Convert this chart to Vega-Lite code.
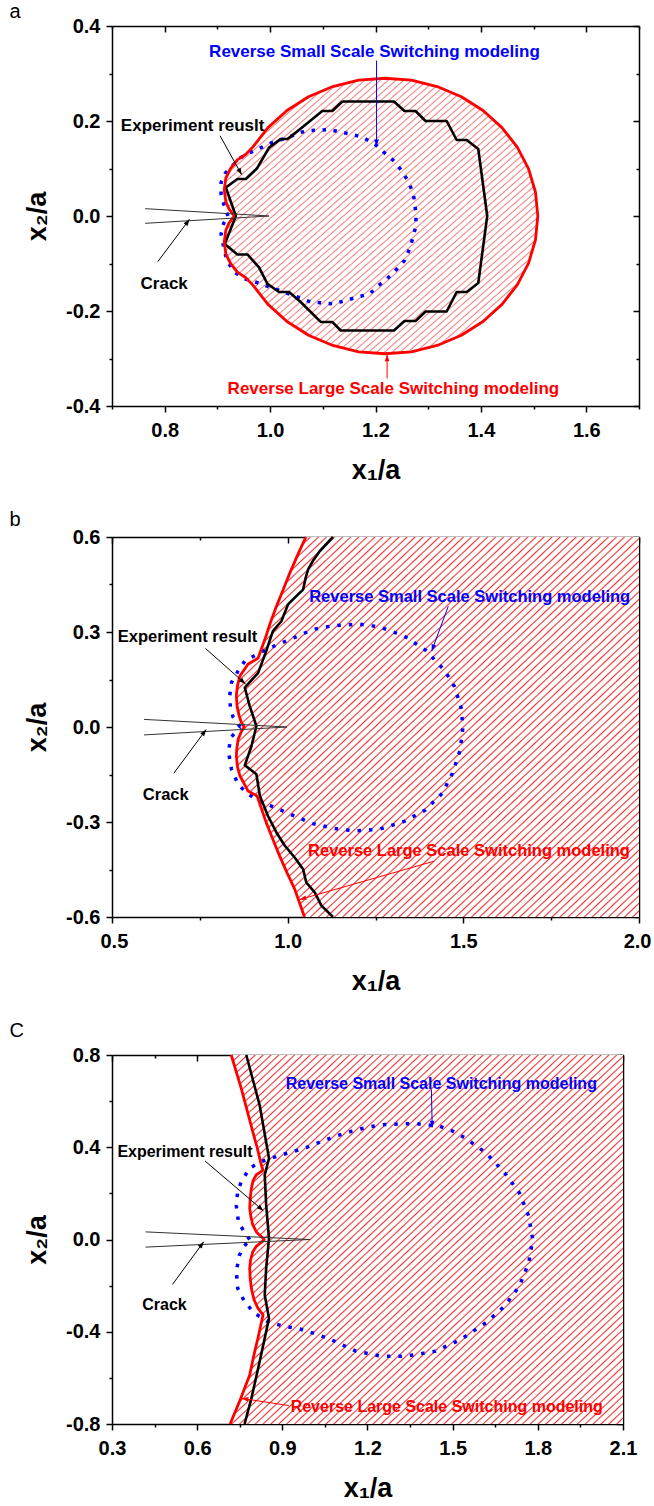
{
"$schema":"https://vega.github.io/schema/vega-lite/v6.json",
"padding":{"left":9,"top":2,"right":0,"bottom":5},
"spacing":27,
"datasets":{
"aFill":[{"y":0.29,"xl":1.218,"xr":1.218},{"y":0.289,"xl":1.194,"xr":1.242},{"y":0.28,"xl":1.1425,"xr":1.2935},{"y":0.26,"xl":1.0895,"xr":1.3465},{"y":0.24,"xl":1.055,"xr":1.381},{"y":0.22,"xl":1.029,"xr":1.407},{"y":0.2,"xl":1.008,"xr":1.428},{"y":0.18,"xl":0.991,"xr":1.445},{"y":0.16,"xl":0.976,"xr":1.46},{"y":0.145,"xl":0.967,"xr":1.469},{"y":0.13,"xl":0.954,"xr":1.477},{"y":0.118,"xl":0.938,"xr":1.483},{"y":0.1,"xl":0.925,"xr":1.49},{"y":0.08,"xl":0.916,"xr":1.497},{"y":0.055,"xl":0.913,"xr":1.503},{"y":0.03,"xl":0.916,"xr":1.506},{"y":0.015,"xl":0.922,"xr":1.508},{"y":0,"xl":0.932,"xr":1.508},{"y":-0.015,"xl":0.922,"xr":1.508},{"y":-0.03,"xl":0.916,"xr":1.506},{"y":-0.055,"xl":0.913,"xr":1.503},{"y":-0.08,"xl":0.916,"xr":1.497},{"y":-0.1,"xl":0.925,"xr":1.49},{"y":-0.118,"xl":0.938,"xr":1.483},{"y":-0.13,"xl":0.954,"xr":1.477},{"y":-0.145,"xl":0.967,"xr":1.469},{"y":-0.16,"xl":0.976,"xr":1.46},{"y":-0.18,"xl":0.991,"xr":1.445},{"y":-0.2,"xl":1.008,"xr":1.428},{"y":-0.22,"xl":1.029,"xr":1.407},{"y":-0.24,"xl":1.055,"xr":1.381},{"y":-0.26,"xl":1.0895,"xr":1.3465},{"y":-0.28,"xl":1.1425,"xr":1.2935},{"y":-0.289,"xl":1.194,"xr":1.242},{"y":-0.29,"xl":1.218,"xr":1.218}],
"aRed":[{"i":0,"x":0.932,"y":0},{"i":1,"x":0.922,"y":0.015},{"i":2,"x":0.916,"y":0.03},{"i":3,"x":0.913,"y":0.055},{"i":4,"x":0.916,"y":0.08},{"i":5,"x":0.925,"y":0.1},{"i":6,"x":0.938,"y":0.118},{"i":7,"x":0.954,"y":0.13},{"i":8,"x":0.967,"y":0.145},{"i":9,"x":0.996,"y":0.186},{"i":10,"x":1.032,"y":0.222},{"i":11,"x":1.073,"y":0.251},{"i":12,"x":1.119,"y":0.2725},{"i":13,"x":1.168,"y":0.286},{"i":14,"x":1.218,"y":0.29},{"i":15,"x":1.268,"y":0.286},{"i":16,"x":1.317,"y":0.2725},{"i":17,"x":1.363,"y":0.251},{"i":18,"x":1.404,"y":0.222},{"i":19,"x":1.44,"y":0.186},{"i":20,"x":1.469,"y":0.145},{"i":21,"x":1.4905,"y":0.099},{"i":22,"x":1.5036,"y":0.05},{"i":23,"x":1.508,"y":0},{"i":24,"x":1.5036,"y":-0.05},{"i":25,"x":1.4905,"y":-0.099},{"i":26,"x":1.469,"y":-0.145},{"i":27,"x":1.44,"y":-0.186},{"i":28,"x":1.404,"y":-0.222},{"i":29,"x":1.363,"y":-0.251},{"i":30,"x":1.317,"y":-0.2725},{"i":31,"x":1.268,"y":-0.286},{"i":32,"x":1.218,"y":-0.29},{"i":33,"x":1.168,"y":-0.286},{"i":34,"x":1.119,"y":-0.2725},{"i":35,"x":1.073,"y":-0.251},{"i":36,"x":1.032,"y":-0.222},{"i":37,"x":0.996,"y":-0.186},{"i":38,"x":0.967,"y":-0.145},{"i":39,"x":0.954,"y":-0.13},{"i":40,"x":0.938,"y":-0.118},{"i":41,"x":0.925,"y":-0.1},{"i":42,"x":0.916,"y":-0.08},{"i":43,"x":0.913,"y":-0.055},{"i":44,"x":0.916,"y":-0.03},{"i":45,"x":0.922,"y":-0.015},{"i":46,"x":0.932,"y":0}],
"aBlack":[{"i":0,"x":1.137,"y":0.241},{"i":1,"x":1.235,"y":0.241},{"i":2,"x":1.255,"y":0.221},{"i":3,"x":1.276,"y":0.221},{"i":4,"x":1.295,"y":0.2},{"i":5,"x":1.335,"y":0.2},{"i":6,"x":1.354,"y":0.16},{"i":7,"x":1.373,"y":0.16},{"i":8,"x":1.395,"y":0.141},{"i":9,"x":1.412,"y":0},{"i":10,"x":1.395,"y":-0.141},{"i":11,"x":1.373,"y":-0.16},{"i":12,"x":1.354,"y":-0.16},{"i":13,"x":1.335,"y":-0.201},{"i":14,"x":1.295,"y":-0.201},{"i":15,"x":1.276,"y":-0.221},{"i":16,"x":1.255,"y":-0.221},{"i":17,"x":1.235,"y":-0.241},{"i":18,"x":1.134,"y":-0.241},{"i":19,"x":1.118,"y":-0.223},{"i":20,"x":1.096,"y":-0.223},{"i":21,"x":1.058,"y":-0.181},{"i":22,"x":1.036,"y":-0.16},{"i":23,"x":1.017,"y":-0.16},{"i":24,"x":0.995,"y":-0.143},{"i":25,"x":0.979,"y":-0.108},{"i":26,"x":0.957,"y":-0.081},{"i":27,"x":0.938,"y":-0.081},{"i":28,"x":0.914,"y":-0.059},{"i":29,"x":0.935,"y":0},{"i":30,"x":0.916,"y":0.06},{"i":31,"x":0.938,"y":0.078},{"i":32,"x":0.954,"y":0.078},{"i":33,"x":0.975,"y":0.1},{"i":34,"x":0.998,"y":0.144},{"i":35,"x":1.02,"y":0.162},{"i":36,"x":1.033,"y":0.162},{"i":37,"x":1.06,"y":0.186},{"i":38,"x":1.099,"y":0.221},{"i":39,"x":1.118,"y":0.221},{"i":40,"x":1.137,"y":0.241}],
"aBlue":[{"i":0,"x":0.92,"y":0},{"i":1,"x":0.912,"y":0.025},{"i":2,"x":0.907,"y":0.046},{"i":3,"x":0.907,"y":0.071},{"i":4,"x":0.915,"y":0.09},{"i":5,"x":0.925,"y":0.102},{"i":6,"x":0.944,"y":0.123},{"i":7,"x":0.963,"y":0.134},{"i":8,"x":0.985,"y":0.145},{"i":9,"x":1.005,"y":0.155},{"i":10,"x":1.033,"y":0.165},{"i":11,"x":1.066,"y":0.179},{"i":12,"x":1.111,"y":0.182},{"i":13,"x":1.155,"y":0.172},{"i":14,"x":1.177,"y":0.165},{"i":15,"x":1.199,"y":0.151},{"i":16,"x":1.216,"y":0.134},{"i":17,"x":1.235,"y":0.116},{"i":18,"x":1.25,"y":0.095},{"i":19,"x":1.263,"y":0.071},{"i":20,"x":1.272,"y":0.046},{"i":21,"x":1.277,"y":0.004},{"i":22,"x":1.276,"y":-0.024},{"i":23,"x":1.266,"y":-0.066},{"i":24,"x":1.255,"y":-0.094},{"i":25,"x":1.241,"y":-0.111},{"i":26,"x":1.222,"y":-0.132},{"i":27,"x":1.206,"y":-0.146},{"i":28,"x":1.189,"y":-0.164},{"i":29,"x":1.165,"y":-0.171},{"i":30,"x":1.121,"y":-0.185},{"i":31,"x":1.077,"y":-0.181},{"i":32,"x":1.026,"y":-0.16},{"i":33,"x":1.0,"y":-0.15},{"i":34,"x":0.975,"y":-0.14},{"i":35,"x":0.951,"y":-0.132},{"i":36,"x":0.932,"y":-0.118},{"i":37,"x":0.918,"y":-0.094},{"i":38,"x":0.912,"y":-0.066},{"i":39,"x":0.907,"y":-0.038},{"i":40,"x":0.912,"y":-0.015},{"i":41,"x":0.92,"y":0}],
"aCrack":[{"i":0,"x":0.763,"y":0.0154},{"i":1,"x":0.998,"y":0},{"i":2,"x":0.763,"y":-0.0154}],
"aArrow":[{"id":1,"i":0,"x":0.905,"y":0.169,"c":"k","angle":152},{"id":1,"i":1,"x":0.946,"y":0.087,"c":"k","angle":152},{"id":2,"i":0,"x":0.787,"y":-0.096,"c":"k","angle":36},{"id":2,"i":1,"x":0.847,"y":-0.007,"c":"k","angle":36},{"id":3,"i":0,"x":1.202,"y":0.327,"c":"b","angle":180},{"id":3,"i":1,"x":1.202,"y":0.147,"c":"b","angle":180},{"id":4,"i":0,"x":1.222,"y":-0.342,"c":"r","angle":0},{"id":4,"i":1,"x":1.222,"y":-0.292,"c":"r","angle":0}],
"aText":[{"x":1.198,"y":0.345,"t":"Reverse Small Scale Switching modeling","c":"b"},{"x":1.234,"y":-0.365,"t":"Reverse Large Scale Switching modeling","c":"r"},{"x":0.853,"y":0.19,"t":"Experiment reuslt","c":"k"},{"x":0.799,"y":-0.143,"t":"Crack","c":"k"}],
"bFill":[{"y":0.6,"xl":1.052,"xr":2.0},{"y":0.55,"xl":1.031,"xr":2.0},{"y":0.486,"xl":1.006,"xr":2.0},{"y":0.43,"xl":0.986,"xr":2.0},{"y":0.381,"xl":0.968,"xr":2.0},{"y":0.33,"xl":0.951,"xr":2.0},{"y":0.276,"xl":0.935,"xr":2.0},{"y":0.218,"xl":0.916,"xr":2.0},{"y":0.198,"xl":0.887,"xr":2.0},{"y":0.161,"xl":0.864,"xr":2.0},{"y":0.13,"xl":0.857,"xr":2.0},{"y":0.098,"xl":0.854,"xr":2.0},{"y":0.065,"xl":0.856,"xr":2.0},{"y":0.035,"xl":0.862,"xr":2.0},{"y":0.015,"xl":0.868,"xr":2.0},{"y":0,"xl":0.876,"xr":2.0},{"y":-0.015,"xl":0.868,"xr":2.0},{"y":-0.039,"xl":0.859,"xr":2.0},{"y":-0.07,"xl":0.855,"xr":2.0},{"y":-0.091,"xl":0.854,"xr":2.0},{"y":-0.125,"xl":0.857,"xr":2.0},{"y":-0.154,"xl":0.864,"xr":2.0},{"y":-0.202,"xl":0.887,"xr":2.0},{"y":-0.218,"xl":0.913,"xr":2.0},{"y":-0.26,"xl":0.926,"xr":2.0},{"y":-0.302,"xl":0.939,"xr":2.0},{"y":-0.35,"xl":0.956,"xr":2.0},{"y":-0.407,"xl":0.977,"xr":2.0},{"y":-0.46,"xl":0.998,"xr":2.0},{"y":-0.512,"xl":1.02,"xr":2.0},{"y":-0.6,"xl":1.048,"xr":2.0}],
"bBlack":[{"x":1.129,"y":0.6},{"x":1.091,"y":0.555},{"x":1.072,"y":0.525},{"x":1.058,"y":0.497},{"x":1.051,"y":0.47},{"x":1.044,"y":0.434},{"x":1.029,"y":0.418},{"x":1.001,"y":0.387},{"x":0.982,"y":0.334},{"x":0.958,"y":0.303},{"x":0.939,"y":0.24},{"x":0.916,"y":0.171},{"x":0.878,"y":0.124},{"x":0.892,"y":0.066},{"x":0.911,"y":0.003},{"x":0.897,"y":-0.06},{"x":0.878,"y":-0.121},{"x":0.911,"y":-0.149},{"x":0.921,"y":-0.218},{"x":0.944,"y":-0.281},{"x":0.968,"y":-0.333},{"x":0.992,"y":-0.375},{"x":1.02,"y":-0.412},{"x":1.044,"y":-0.449},{"x":1.053,"y":-0.491},{"x":1.077,"y":-0.522},{"x":1.096,"y":-0.564},{"x":1.129,"y":-0.6}],
"bBlue":[{"i":0,"x":0.865,"y":0},{"i":1,"x":0.845,"y":0.03},{"i":2,"x":0.837,"y":0.06},{"i":3,"x":0.835,"y":0.098},{"i":4,"x":0.84,"y":0.14},{"i":5,"x":0.859,"y":0.177},{"i":6,"x":0.878,"y":0.208},{"i":7,"x":0.911,"y":0.229},{"i":8,"x":0.939,"y":0.245},{"i":9,"x":0.973,"y":0.261},{"i":10,"x":1.006,"y":0.276},{"i":11,"x":1.039,"y":0.292},{"i":12,"x":1.072,"y":0.308},{"i":13,"x":1.13,"y":0.32},{"i":14,"x":1.201,"y":0.325},{"i":15,"x":1.261,"y":0.316},{"i":16,"x":1.332,"y":0.287},{"i":17,"x":1.392,"y":0.243},{"i":18,"x":1.446,"y":0.18},{"i":19,"x":1.475,"y":0.127},{"i":20,"x":1.493,"y":0.064},{"i":21,"x":1.499,"y":0},{"i":22,"x":1.491,"y":-0.073},{"i":23,"x":1.469,"y":-0.146},{"i":24,"x":1.44,"y":-0.209},{"i":25,"x":1.392,"y":-0.262},{"i":26,"x":1.332,"y":-0.298},{"i":27,"x":1.261,"y":-0.323},{"i":28,"x":1.189,"y":-0.328},{"i":29,"x":1.13,"y":-0.32},{"i":30,"x":1.072,"y":-0.305},{"i":31,"x":1.03,"y":-0.286},{"i":32,"x":0.996,"y":-0.27},{"i":33,"x":0.963,"y":-0.254},{"i":34,"x":0.93,"y":-0.239},{"i":35,"x":0.887,"y":-0.212},{"i":36,"x":0.859,"y":-0.181},{"i":37,"x":0.84,"y":-0.133},{"i":38,"x":0.832,"y":-0.081},{"i":39,"x":0.837,"y":-0.035},{"i":40,"x":0.865,"y":0}],
"bCrack":[{"i":0,"x":0.591,"y":0.024},{"i":1,"x":0.998,"y":0},{"i":2,"x":0.591,"y":-0.025}],
"bArrow":[{"id":1,"i":0,"x":0.766,"y":0.248,"c":"k","angle":131.5},{"id":1,"i":1,"x":0.88,"y":0.136,"c":"k","angle":131.5},{"id":2,"i":0,"x":0.676,"y":-0.146,"c":"k","angle":36.5},{"id":2,"i":1,"x":0.768,"y":-0.008,"c":"k","angle":36.5},{"id":3,"i":0,"x":1.457,"y":0.381,"c":"b","angle":200},{"id":3,"i":1,"x":1.41,"y":0.24,"c":"b","angle":200},{"id":4,"i":0,"x":1.416,"y":-0.424,"c":"r","angle":254},{"id":4,"i":1,"x":1.034,"y":-0.545,"c":"r","angle":254}],
"bText":[{"x":1.518,"y":0.411,"t":"Reverse Small Scale Switching modeling","c":"b"},{"x":1.516,"y":-0.393,"t":"Reverse Large Scale Switching modeling","c":"r"},{"x":0.715,"y":0.285,"t":"Experiment result","c":"k"},{"x":0.653,"y":-0.214,"t":"Crack","c":"k"}],
"cFill":[{"y":0.8,"xl":0.72,"xr":2.1},{"y":0.656,"xl":0.755,"xr":2.1},{"y":0.55,"xl":0.778,"xr":2.1},{"y":0.467,"xl":0.796,"xr":2.1},{"y":0.4,"xl":0.811,"xr":2.1},{"y":0.323,"xl":0.826,"xr":2.1},{"y":0.301,"xl":0.832,"xr":2.1},{"y":0.28,"xl":0.808,"xr":2.1},{"y":0.255,"xl":0.797,"xr":2.1},{"y":0.222,"xl":0.791,"xr":2.1},{"y":0.18,"xl":0.787,"xr":2.1},{"y":0.135,"xl":0.785,"xr":2.1},{"y":0.1,"xl":0.789,"xr":2.1},{"y":0.063,"xl":0.796,"xr":2.1},{"y":0.03,"xl":0.81,"xr":2.1},{"y":0.008,"xl":0.83,"xr":2.1},{"y":0,"xl":0.836,"xr":2.1},{"y":-0.008,"xl":0.83,"xr":2.1},{"y":-0.03,"xl":0.808,"xr":2.1},{"y":-0.053,"xl":0.796,"xr":2.1},{"y":-0.09,"xl":0.788,"xr":2.1},{"y":-0.125,"xl":0.785,"xr":2.1},{"y":-0.17,"xl":0.787,"xr":2.1},{"y":-0.212,"xl":0.791,"xr":2.1},{"y":-0.26,"xl":0.8,"xr":2.1},{"y":-0.298,"xl":0.814,"xr":2.1},{"y":-0.327,"xl":0.832,"xr":2.1},{"y":-0.428,"xl":0.814,"xr":2.1},{"y":-0.5,"xl":0.8,"xr":2.1},{"y":-0.588,"xl":0.785,"xr":2.1},{"y":-0.703,"xl":0.749,"xr":2.1},{"y":-0.8,"xl":0.716,"xr":2.1}],
"cBlack":[{"x":0.773,"y":0.8},{"x":0.82,"y":0.583},{"x":0.853,"y":0.352},{"x":0.838,"y":0.28},{"x":0.843,"y":0.15},{"x":0.853,"y":0.005},{"x":0.843,"y":-0.125},{"x":0.838,"y":-0.241},{"x":0.853,"y":-0.342},{"x":0.82,"y":-0.53},{"x":0.791,"y":-0.689},{"x":0.767,"y":-0.8}],
"cBlue":[{"i":0,"x":0.785,"y":0},{"i":1,"x":0.768,"y":0.03},{"i":2,"x":0.746,"y":0.072},{"i":3,"x":0.738,"y":0.145},{"i":4,"x":0.742,"y":0.2},{"i":5,"x":0.755,"y":0.251},{"i":6,"x":0.785,"y":0.309},{"i":7,"x":0.82,"y":0.335},{"i":8,"x":0.855,"y":0.35},{"i":9,"x":0.884,"y":0.362},{"i":10,"x":0.937,"y":0.381},{"i":11,"x":0.984,"y":0.398},{"i":12,"x":1.026,"y":0.419},{"i":13,"x":1.085,"y":0.447},{"i":14,"x":1.145,"y":0.47},{"i":15,"x":1.205,"y":0.488},{"i":16,"x":1.263,"y":0.499},{"i":17,"x":1.366,"y":0.503},{"i":18,"x":1.455,"y":0.491},{"i":19,"x":1.5,"y":0.47},{"i":20,"x":1.543,"y":0.441},{"i":21,"x":1.617,"y":0.376},{"i":22,"x":1.683,"y":0.289},{"i":23,"x":1.735,"y":0.202},{"i":24,"x":1.768,"y":0.101},{"i":25,"x":1.782,"y":0},{"i":26,"x":1.768,"y":-0.101},{"i":27,"x":1.735,"y":-0.202},{"i":28,"x":1.683,"y":-0.289},{"i":29,"x":1.617,"y":-0.361},{"i":30,"x":1.528,"y":-0.434},{"i":31,"x":1.44,"y":-0.484},{"i":32,"x":1.336,"y":-0.506},{"i":33,"x":1.248,"y":-0.506},{"i":34,"x":1.159,"y":-0.484},{"i":35,"x":1.071,"y":-0.434},{"i":36,"x":1.02,"y":-0.41},{"i":37,"x":0.961,"y":-0.388},{"i":38,"x":0.902,"y":-0.375},{"i":39,"x":0.849,"y":-0.356},{"i":40,"x":0.802,"y":-0.32},{"i":41,"x":0.767,"y":-0.27},{"i":42,"x":0.743,"y":-0.212},{"i":43,"x":0.738,"y":-0.139},{"i":44,"x":0.748,"y":-0.07},{"i":45,"x":0.765,"y":-0.03},{"i":46,"x":0.785,"y":0}],
"cCrack":[{"i":0,"x":0.418,"y":0.033},{"i":1,"x":0.997,"y":0},{"i":2,"x":0.418,"y":-0.033}],
"cArrow":[{"id":1,"i":0,"x":0.628,"y":0.34,"c":"k","angle":130.4},{"id":1,"i":1,"x":0.833,"y":0.125,"c":"k","angle":130.4},{"id":2,"i":0,"x":0.513,"y":-0.195,"c":"k","angle":36.2},{"id":2,"i":1,"x":0.623,"y":-0.01,"c":"k","angle":36.2},{"id":3,"i":0,"x":1.425,"y":0.65,"c":"b","angle":179},{"id":3,"i":1,"x":1.428,"y":0.486,"c":"b","angle":179},{"id":4,"i":0,"x":0.923,"y":-0.72,"c":"r","angle":278.6},{"id":4,"i":1,"x":0.757,"y":-0.689,"c":"r","angle":278.6}],
"cText":[{"x":1.46,"y":0.674,"t":"Reverse Small Scale Switching modeling","c":"b"},{"x":1.479,"y":-0.725,"t":"Reverse Large Scale Switching modeling","c":"r"},{"x":0.557,"y":0.378,"t":"Experiment result","c":"k"},{"x":0.485,"y":-0.284,"t":"Crack","c":"k"}]
},
"vconcat":[
{
"width":527,"height":380,
"title":{"text":"a","anchor":"start","frame":"bounds","fontSize":20,"fontWeight":"normal","font":"Liberation Sans","color":"#000","dx":-14,"offset":-6},
"resolve":{"axis":{"x":"independent","y":"independent"}},
"layer":[
{"data":{"name":"aFill"},
"mark":{"type":"area","orient":"horizontal","fill":{"gradient":"linear","x1":0,"y1":0,"x2":1,"y2":1,"stops":[
{"offset":0,"color":"#fff"},{"offset":0.0025,"color":"#f28080"},{"offset":0.005,"color":"#fff"},
{"offset":0.0125,"color":"#fff"},{"offset":0.015,"color":"#f28080"},{"offset":0.0175,"color":"#fff"},
{"offset":0.025,"color":"#fff"},{"offset":0.0275,"color":"#f28080"},{"offset":0.03,"color":"#fff"},
{"offset":0.0375,"color":"#fff"},{"offset":0.04,"color":"#f28080"},{"offset":0.0425,"color":"#fff"},
{"offset":0.05,"color":"#fff"},{"offset":0.0525,"color":"#f28080"},{"offset":0.055,"color":"#fff"},
{"offset":0.0625,"color":"#fff"},{"offset":0.065,"color":"#f28080"},{"offset":0.0675,"color":"#fff"},
{"offset":0.075,"color":"#fff"},{"offset":0.0775,"color":"#f28080"},{"offset":0.08,"color":"#fff"},
{"offset":0.0875,"color":"#fff"},{"offset":0.09,"color":"#f28080"},{"offset":0.0925,"color":"#fff"},
{"offset":0.1,"color":"#fff"},{"offset":0.1025,"color":"#f28080"},{"offset":0.105,"color":"#fff"},
{"offset":0.1125,"color":"#fff"},{"offset":0.115,"color":"#f28080"},{"offset":0.1175,"color":"#fff"},
{"offset":0.125,"color":"#fff"},{"offset":0.1275,"color":"#f28080"},{"offset":0.13,"color":"#fff"},
{"offset":0.1375,"color":"#fff"},{"offset":0.14,"color":"#f28080"},{"offset":0.1425,"color":"#fff"},
{"offset":0.15,"color":"#fff"},{"offset":0.1525,"color":"#f28080"},{"offset":0.155,"color":"#fff"},
{"offset":0.1625,"color":"#fff"},{"offset":0.165,"color":"#f28080"},{"offset":0.1675,"color":"#fff"},
{"offset":0.175,"color":"#fff"},{"offset":0.1775,"color":"#f28080"},{"offset":0.18,"color":"#fff"},
{"offset":0.1875,"color":"#fff"},{"offset":0.19,"color":"#f28080"},{"offset":0.1925,"color":"#fff"},
{"offset":0.2,"color":"#fff"},{"offset":0.2025,"color":"#f28080"},{"offset":0.205,"color":"#fff"},
{"offset":0.2125,"color":"#fff"},{"offset":0.215,"color":"#f28080"},{"offset":0.2175,"color":"#fff"},
{"offset":0.225,"color":"#fff"},{"offset":0.2275,"color":"#f28080"},{"offset":0.23,"color":"#fff"},
{"offset":0.2375,"color":"#fff"},{"offset":0.24,"color":"#f28080"},{"offset":0.2425,"color":"#fff"},
{"offset":0.25,"color":"#fff"},{"offset":0.2525,"color":"#f28080"},{"offset":0.255,"color":"#fff"},
{"offset":0.2625,"color":"#fff"},{"offset":0.265,"color":"#f28080"},{"offset":0.2675,"color":"#fff"},
{"offset":0.275,"color":"#fff"},{"offset":0.2775,"color":"#f28080"},{"offset":0.28,"color":"#fff"},
{"offset":0.2875,"color":"#fff"},{"offset":0.29,"color":"#f28080"},{"offset":0.2925,"color":"#fff"},
{"offset":0.3,"color":"#fff"},{"offset":0.3025,"color":"#f28080"},{"offset":0.305,"color":"#fff"},
{"offset":0.3125,"color":"#fff"},{"offset":0.315,"color":"#f28080"},{"offset":0.3175,"color":"#fff"},
{"offset":0.325,"color":"#fff"},{"offset":0.3275,"color":"#f28080"},{"offset":0.33,"color":"#fff"},
{"offset":0.3375,"color":"#fff"},{"offset":0.34,"color":"#f28080"},{"offset":0.3425,"color":"#fff"},
{"offset":0.35,"color":"#fff"},{"offset":0.3525,"color":"#f28080"},{"offset":0.355,"color":"#fff"},
{"offset":0.3625,"color":"#fff"},{"offset":0.365,"color":"#f28080"},{"offset":0.3675,"color":"#fff"},
{"offset":0.375,"color":"#fff"},{"offset":0.3775,"color":"#f28080"},{"offset":0.38,"color":"#fff"},
{"offset":0.3875,"color":"#fff"},{"offset":0.39,"color":"#f28080"},{"offset":0.3925,"color":"#fff"},
{"offset":0.4,"color":"#fff"},{"offset":0.4025,"color":"#f28080"},{"offset":0.405,"color":"#fff"},
{"offset":0.4125,"color":"#fff"},{"offset":0.415,"color":"#f28080"},{"offset":0.4175,"color":"#fff"},
{"offset":0.425,"color":"#fff"},{"offset":0.4275,"color":"#f28080"},{"offset":0.43,"color":"#fff"},
{"offset":0.4375,"color":"#fff"},{"offset":0.44,"color":"#f28080"},{"offset":0.4425,"color":"#fff"},
{"offset":0.45,"color":"#fff"},{"offset":0.4525,"color":"#f28080"},{"offset":0.455,"color":"#fff"},
{"offset":0.4625,"color":"#fff"},{"offset":0.465,"color":"#f28080"},{"offset":0.4675,"color":"#fff"},
{"offset":0.475,"color":"#fff"},{"offset":0.4775,"color":"#f28080"},{"offset":0.48,"color":"#fff"},
{"offset":0.4875,"color":"#fff"},{"offset":0.49,"color":"#f28080"},{"offset":0.4925,"color":"#fff"},
{"offset":0.5,"color":"#fff"},{"offset":0.5025,"color":"#f28080"},{"offset":0.505,"color":"#fff"},
{"offset":0.5125,"color":"#fff"},{"offset":0.515,"color":"#f28080"},{"offset":0.5175,"color":"#fff"},
{"offset":0.525,"color":"#fff"},{"offset":0.5275,"color":"#f28080"},{"offset":0.53,"color":"#fff"},
{"offset":0.5375,"color":"#fff"},{"offset":0.54,"color":"#f28080"},{"offset":0.5425,"color":"#fff"},
{"offset":0.55,"color":"#fff"},{"offset":0.5525,"color":"#f28080"},{"offset":0.555,"color":"#fff"},
{"offset":0.5625,"color":"#fff"},{"offset":0.565,"color":"#f28080"},{"offset":0.5675,"color":"#fff"},
{"offset":0.575,"color":"#fff"},{"offset":0.5775,"color":"#f28080"},{"offset":0.58,"color":"#fff"},
{"offset":0.5875,"color":"#fff"},{"offset":0.59,"color":"#f28080"},{"offset":0.5925,"color":"#fff"},
{"offset":0.6,"color":"#fff"},{"offset":0.6025,"color":"#f28080"},{"offset":0.605,"color":"#fff"},
{"offset":0.6125,"color":"#fff"},{"offset":0.615,"color":"#f28080"},{"offset":0.6175,"color":"#fff"},
{"offset":0.625,"color":"#fff"},{"offset":0.6275,"color":"#f28080"},{"offset":0.63,"color":"#fff"},
{"offset":0.6375,"color":"#fff"},{"offset":0.64,"color":"#f28080"},{"offset":0.6425,"color":"#fff"},
{"offset":0.65,"color":"#fff"},{"offset":0.6525,"color":"#f28080"},{"offset":0.655,"color":"#fff"},
{"offset":0.6625,"color":"#fff"},{"offset":0.665,"color":"#f28080"},{"offset":0.6675,"color":"#fff"},
{"offset":0.675,"color":"#fff"},{"offset":0.6775,"color":"#f28080"},{"offset":0.68,"color":"#fff"},
{"offset":0.6875,"color":"#fff"},{"offset":0.69,"color":"#f28080"},{"offset":0.6925,"color":"#fff"},
{"offset":0.7,"color":"#fff"},{"offset":0.7025,"color":"#f28080"},{"offset":0.705,"color":"#fff"},
{"offset":0.7125,"color":"#fff"},{"offset":0.715,"color":"#f28080"},{"offset":0.7175,"color":"#fff"},
{"offset":0.725,"color":"#fff"},{"offset":0.7275,"color":"#f28080"},{"offset":0.73,"color":"#fff"},
{"offset":0.7375,"color":"#fff"},{"offset":0.74,"color":"#f28080"},{"offset":0.7425,"color":"#fff"},
{"offset":0.75,"color":"#fff"},{"offset":0.7525,"color":"#f28080"},{"offset":0.755,"color":"#fff"},
{"offset":0.7625,"color":"#fff"},{"offset":0.765,"color":"#f28080"},{"offset":0.7675,"color":"#fff"},
{"offset":0.775,"color":"#fff"},{"offset":0.7775,"color":"#f28080"},{"offset":0.78,"color":"#fff"},
{"offset":0.7875,"color":"#fff"},{"offset":0.79,"color":"#f28080"},{"offset":0.7925,"color":"#fff"},
{"offset":0.8,"color":"#fff"},{"offset":0.8025,"color":"#f28080"},{"offset":0.805,"color":"#fff"},
{"offset":0.8125,"color":"#fff"},{"offset":0.815,"color":"#f28080"},{"offset":0.8175,"color":"#fff"},
{"offset":0.825,"color":"#fff"},{"offset":0.8275,"color":"#f28080"},{"offset":0.83,"color":"#fff"},
{"offset":0.8375,"color":"#fff"},{"offset":0.84,"color":"#f28080"},{"offset":0.8425,"color":"#fff"},
{"offset":0.85,"color":"#fff"},{"offset":0.8525,"color":"#f28080"},{"offset":0.855,"color":"#fff"},
{"offset":0.8625,"color":"#fff"},{"offset":0.865,"color":"#f28080"},{"offset":0.8675,"color":"#fff"},
{"offset":0.875,"color":"#fff"},{"offset":0.8775,"color":"#f28080"},{"offset":0.88,"color":"#fff"},
{"offset":0.8875,"color":"#fff"},{"offset":0.89,"color":"#f28080"},{"offset":0.8925,"color":"#fff"},
{"offset":0.9,"color":"#fff"},{"offset":0.9025,"color":"#f28080"},{"offset":0.905,"color":"#fff"},
{"offset":0.9125,"color":"#fff"},{"offset":0.915,"color":"#f28080"},{"offset":0.9175,"color":"#fff"},
{"offset":0.925,"color":"#fff"},{"offset":0.9275,"color":"#f28080"},{"offset":0.93,"color":"#fff"},
{"offset":0.9375,"color":"#fff"},{"offset":0.94,"color":"#f28080"},{"offset":0.9425,"color":"#fff"},
{"offset":0.95,"color":"#fff"},{"offset":0.9525,"color":"#f28080"},{"offset":0.955,"color":"#fff"},
{"offset":0.9625,"color":"#fff"},{"offset":0.965,"color":"#f28080"},{"offset":0.9675,"color":"#fff"},
{"offset":0.975,"color":"#fff"},{"offset":0.9775,"color":"#f28080"},{"offset":0.98,"color":"#fff"},
{"offset":0.9875,"color":"#fff"},{"offset":0.99,"color":"#f28080"},{"offset":0.9925,"color":"#fff"}
]}},
"encoding":{
"y":{"field":"y","type":"quantitative","scale":{"domain":[-0.4,0.4],"nice":false,"zero":false},
"axis":{"orient":"left","values":[-0.4,-0.3,-0.2,-0.1,0,0.1,0.2,0.3,0.4],"labelExpr":"round(datum.value*10)%2==0 ? replace(format(datum.value,'.1f'),'−','-') : ''","tickSize":{"condition":{"test":"round(datum.value*10)%2==0","value":6},"value":3},"title":"x₂/a","titlePadding":14,"labelPadding":6}},
"x":{"field":"xl","type":"quantitative","scale":{"domain":[0.7,1.7],"nice":false,"zero":false},
"axis":{"orient":"bottom","values":[0.7,0.8,0.9,1,1.1,1.2,1.3,1.4,1.5,1.6,1.7],"labelExpr":"round(datum.value*10)%2==0 ? replace(format(datum.value,'.1f'),'−','-') : ''","tickSize":{"condition":{"test":"round(datum.value*10)%2==0","value":6},"value":3},"title":"x₁/a","titlePadding":17,"labelPadding":8}},
"x2":{"field":"xr"}}},
{"data":{"name":"aBlue"},
"mark":{"type":"line","color":"#0000ff","strokeWidth":3.5,"strokeDash":[3.5,7.5]},
"encoding":{"x":{"field":"x","type":"quantitative","axis":{"orient":"top","values":[0.7,0.8,0.9,1,1.1,1.2,1.3,1.4,1.5,1.6,1.7],"labels":false,"title":null,"tickSize":{"condition":{"test":"round(datum.value*10)%2==0","value":-6},"value":-3}}},
"y":{"field":"y","type":"quantitative","axis":{"orient":"right","values":[-0.4,-0.3,-0.2,-0.1,0,0.1,0.2,0.3,0.4],"labels":false,"title":null,"tickSize":{"condition":{"test":"round(datum.value*10)%2==0","value":-6},"value":-3}}},
"order":{"field":"i","type":"quantitative"}}},
{"data":{"name":"aBlack"},
"mark":{"type":"line","color":"#000000","strokeWidth":2.6,"strokeJoin":"round"},
"encoding":{"x":{"field":"x","type":"quantitative","axis":null},"y":{"field":"y","type":"quantitative","axis":null},"order":{"field":"i","type":"quantitative"}}},
{"data":{"name":"aRed"},
"mark":{"type":"line","color":"#ff0000","strokeWidth":2.8,"strokeJoin":"round"},
"encoding":{"x":{"field":"x","type":"quantitative","axis":null},"y":{"field":"y","type":"quantitative","axis":null},"order":{"field":"i","type":"quantitative"}}},
{"data":{"name":"aCrack"},
"mark":{"type":"line","color":"#333333","strokeWidth":1},
"encoding":{"x":{"field":"x","type":"quantitative","axis":null},"y":{"field":"y","type":"quantitative","axis":null},"order":{"field":"i","type":"quantitative"}}},
{"data":{"name":"aArrow"},
"mark":{"type":"line","strokeWidth":1},
"encoding":{"x":{"field":"x","type":"quantitative","axis":null},"y":{"field":"y","type":"quantitative","axis":null},"detail":{"field":"id"},"order":{"field":"i","type":"quantitative"},
"color":{"field":"c","type":"nominal","scale":{"domain":["k","b","r"],"range":["#000000","#0000ff","#ff0000"]},"legend":null}}},
{"data":{"name":"aArrow"},"transform":[{"filter":"datum.i==1"}],
"mark":{"type":"point","shape":"M0,0L0.8,2.2L-0.8,2.2Z","filled":true,"size":36,"opacity":1,"strokeWidth":0},
"encoding":{"x":{"field":"x","type":"quantitative","axis":null},"y":{"field":"y","type":"quantitative","axis":null},"angle":{"field":"angle","type":"quantitative","scale":null},
"color":{"field":"c","type":"nominal","scale":{"domain":["k","b","r"],"range":["#000000","#0000ff","#ff0000"]},"legend":null}}},
{"data":{"name":"aText"},
"mark":{"type":"text","font":"Liberation Sans","fontWeight":"bold","fontSize":17,"align":"center","baseline":"middle"},
"encoding":{"x":{"field":"x","type":"quantitative","axis":null},"y":{"field":"y","type":"quantitative","axis":null},"text":{"field":"t"},
"color":{"field":"c","type":"nominal","scale":{"domain":["k","b","r"],"range":["#000000","#0000ff","#ff0000"]},"legend":null}}}
]
},
{
"width":527,"height":380,
"title":{"text":"b","anchor":"start","frame":"bounds","fontSize":20,"fontWeight":"normal","font":"Liberation Sans","color":"#000","dx":-14,"offset":-3},
"resolve":{"axis":{"x":"independent","y":"independent"}},
"layer":[
{"data":{"name":"bFill"},
"mark":{"type":"area","orient":"horizontal","fill":{"gradient":"linear","x1":0,"y1":0,"x2":1,"y2":1,"stops":[
{"offset":0,"color":"#fff"},{"offset":0.002,"color":"#ee3434"},{"offset":0.004,"color":"#fff"},
{"offset":0.01,"color":"#fff"},{"offset":0.012,"color":"#ee3434"},{"offset":0.014,"color":"#fff"},
{"offset":0.02,"color":"#fff"},{"offset":0.022,"color":"#ee3434"},{"offset":0.024,"color":"#fff"},
{"offset":0.03,"color":"#fff"},{"offset":0.032,"color":"#ee3434"},{"offset":0.034,"color":"#fff"},
{"offset":0.04,"color":"#fff"},{"offset":0.042,"color":"#ee3434"},{"offset":0.044,"color":"#fff"},
{"offset":0.05,"color":"#fff"},{"offset":0.052,"color":"#ee3434"},{"offset":0.054,"color":"#fff"},
{"offset":0.06,"color":"#fff"},{"offset":0.062,"color":"#ee3434"},{"offset":0.064,"color":"#fff"},
{"offset":0.07,"color":"#fff"},{"offset":0.072,"color":"#ee3434"},{"offset":0.074,"color":"#fff"},
{"offset":0.08,"color":"#fff"},{"offset":0.082,"color":"#ee3434"},{"offset":0.084,"color":"#fff"},
{"offset":0.09,"color":"#fff"},{"offset":0.092,"color":"#ee3434"},{"offset":0.094,"color":"#fff"},
{"offset":0.1,"color":"#fff"},{"offset":0.102,"color":"#ee3434"},{"offset":0.104,"color":"#fff"},
{"offset":0.11,"color":"#fff"},{"offset":0.112,"color":"#ee3434"},{"offset":0.114,"color":"#fff"},
{"offset":0.12,"color":"#fff"},{"offset":0.122,"color":"#ee3434"},{"offset":0.124,"color":"#fff"},
{"offset":0.13,"color":"#fff"},{"offset":0.132,"color":"#ee3434"},{"offset":0.134,"color":"#fff"},
{"offset":0.14,"color":"#fff"},{"offset":0.142,"color":"#ee3434"},{"offset":0.144,"color":"#fff"},
{"offset":0.15,"color":"#fff"},{"offset":0.152,"color":"#ee3434"},{"offset":0.154,"color":"#fff"},
{"offset":0.16,"color":"#fff"},{"offset":0.162,"color":"#ee3434"},{"offset":0.164,"color":"#fff"},
{"offset":0.17,"color":"#fff"},{"offset":0.172,"color":"#ee3434"},{"offset":0.174,"color":"#fff"},
{"offset":0.18,"color":"#fff"},{"offset":0.182,"color":"#ee3434"},{"offset":0.184,"color":"#fff"},
{"offset":0.19,"color":"#fff"},{"offset":0.192,"color":"#ee3434"},{"offset":0.194,"color":"#fff"},
{"offset":0.2,"color":"#fff"},{"offset":0.202,"color":"#ee3434"},{"offset":0.204,"color":"#fff"},
{"offset":0.21,"color":"#fff"},{"offset":0.212,"color":"#ee3434"},{"offset":0.214,"color":"#fff"},
{"offset":0.22,"color":"#fff"},{"offset":0.222,"color":"#ee3434"},{"offset":0.224,"color":"#fff"},
{"offset":0.23,"color":"#fff"},{"offset":0.232,"color":"#ee3434"},{"offset":0.234,"color":"#fff"},
{"offset":0.24,"color":"#fff"},{"offset":0.242,"color":"#ee3434"},{"offset":0.244,"color":"#fff"},
{"offset":0.25,"color":"#fff"},{"offset":0.252,"color":"#ee3434"},{"offset":0.254,"color":"#fff"},
{"offset":0.26,"color":"#fff"},{"offset":0.262,"color":"#ee3434"},{"offset":0.264,"color":"#fff"},
{"offset":0.27,"color":"#fff"},{"offset":0.272,"color":"#ee3434"},{"offset":0.274,"color":"#fff"},
{"offset":0.28,"color":"#fff"},{"offset":0.282,"color":"#ee3434"},{"offset":0.284,"color":"#fff"},
{"offset":0.29,"color":"#fff"},{"offset":0.292,"color":"#ee3434"},{"offset":0.294,"color":"#fff"},
{"offset":0.3,"color":"#fff"},{"offset":0.302,"color":"#ee3434"},{"offset":0.304,"color":"#fff"},
{"offset":0.31,"color":"#fff"},{"offset":0.312,"color":"#ee3434"},{"offset":0.314,"color":"#fff"},
{"offset":0.32,"color":"#fff"},{"offset":0.322,"color":"#ee3434"},{"offset":0.324,"color":"#fff"},
{"offset":0.33,"color":"#fff"},{"offset":0.332,"color":"#ee3434"},{"offset":0.334,"color":"#fff"},
{"offset":0.34,"color":"#fff"},{"offset":0.342,"color":"#ee3434"},{"offset":0.344,"color":"#fff"},
{"offset":0.35,"color":"#fff"},{"offset":0.352,"color":"#ee3434"},{"offset":0.354,"color":"#fff"},
{"offset":0.36,"color":"#fff"},{"offset":0.362,"color":"#ee3434"},{"offset":0.364,"color":"#fff"},
{"offset":0.37,"color":"#fff"},{"offset":0.372,"color":"#ee3434"},{"offset":0.374,"color":"#fff"},
{"offset":0.38,"color":"#fff"},{"offset":0.382,"color":"#ee3434"},{"offset":0.384,"color":"#fff"},
{"offset":0.39,"color":"#fff"},{"offset":0.392,"color":"#ee3434"},{"offset":0.394,"color":"#fff"},
{"offset":0.4,"color":"#fff"},{"offset":0.402,"color":"#ee3434"},{"offset":0.404,"color":"#fff"},
{"offset":0.41,"color":"#fff"},{"offset":0.412,"color":"#ee3434"},{"offset":0.414,"color":"#fff"},
{"offset":0.42,"color":"#fff"},{"offset":0.422,"color":"#ee3434"},{"offset":0.424,"color":"#fff"},
{"offset":0.43,"color":"#fff"},{"offset":0.432,"color":"#ee3434"},{"offset":0.434,"color":"#fff"},
{"offset":0.44,"color":"#fff"},{"offset":0.442,"color":"#ee3434"},{"offset":0.444,"color":"#fff"},
{"offset":0.45,"color":"#fff"},{"offset":0.452,"color":"#ee3434"},{"offset":0.454,"color":"#fff"},
{"offset":0.46,"color":"#fff"},{"offset":0.462,"color":"#ee3434"},{"offset":0.464,"color":"#fff"},
{"offset":0.47,"color":"#fff"},{"offset":0.472,"color":"#ee3434"},{"offset":0.474,"color":"#fff"},
{"offset":0.48,"color":"#fff"},{"offset":0.482,"color":"#ee3434"},{"offset":0.484,"color":"#fff"},
{"offset":0.49,"color":"#fff"},{"offset":0.492,"color":"#ee3434"},{"offset":0.494,"color":"#fff"},
{"offset":0.5,"color":"#fff"},{"offset":0.502,"color":"#ee3434"},{"offset":0.504,"color":"#fff"},
{"offset":0.51,"color":"#fff"},{"offset":0.512,"color":"#ee3434"},{"offset":0.514,"color":"#fff"},
{"offset":0.52,"color":"#fff"},{"offset":0.522,"color":"#ee3434"},{"offset":0.524,"color":"#fff"},
{"offset":0.53,"color":"#fff"},{"offset":0.532,"color":"#ee3434"},{"offset":0.534,"color":"#fff"},
{"offset":0.54,"color":"#fff"},{"offset":0.542,"color":"#ee3434"},{"offset":0.544,"color":"#fff"},
{"offset":0.55,"color":"#fff"},{"offset":0.552,"color":"#ee3434"},{"offset":0.554,"color":"#fff"},
{"offset":0.56,"color":"#fff"},{"offset":0.562,"color":"#ee3434"},{"offset":0.564,"color":"#fff"},
{"offset":0.57,"color":"#fff"},{"offset":0.572,"color":"#ee3434"},{"offset":0.574,"color":"#fff"},
{"offset":0.58,"color":"#fff"},{"offset":0.582,"color":"#ee3434"},{"offset":0.584,"color":"#fff"},
{"offset":0.59,"color":"#fff"},{"offset":0.592,"color":"#ee3434"},{"offset":0.594,"color":"#fff"},
{"offset":0.6,"color":"#fff"},{"offset":0.602,"color":"#ee3434"},{"offset":0.604,"color":"#fff"},
{"offset":0.61,"color":"#fff"},{"offset":0.612,"color":"#ee3434"},{"offset":0.614,"color":"#fff"},
{"offset":0.62,"color":"#fff"},{"offset":0.622,"color":"#ee3434"},{"offset":0.624,"color":"#fff"},
{"offset":0.63,"color":"#fff"},{"offset":0.632,"color":"#ee3434"},{"offset":0.634,"color":"#fff"},
{"offset":0.64,"color":"#fff"},{"offset":0.642,"color":"#ee3434"},{"offset":0.644,"color":"#fff"},
{"offset":0.65,"color":"#fff"},{"offset":0.652,"color":"#ee3434"},{"offset":0.654,"color":"#fff"},
{"offset":0.66,"color":"#fff"},{"offset":0.662,"color":"#ee3434"},{"offset":0.664,"color":"#fff"},
{"offset":0.67,"color":"#fff"},{"offset":0.672,"color":"#ee3434"},{"offset":0.674,"color":"#fff"},
{"offset":0.68,"color":"#fff"},{"offset":0.682,"color":"#ee3434"},{"offset":0.684,"color":"#fff"},
{"offset":0.69,"color":"#fff"},{"offset":0.692,"color":"#ee3434"},{"offset":0.694,"color":"#fff"},
{"offset":0.7,"color":"#fff"},{"offset":0.702,"color":"#ee3434"},{"offset":0.704,"color":"#fff"},
{"offset":0.71,"color":"#fff"},{"offset":0.712,"color":"#ee3434"},{"offset":0.714,"color":"#fff"},
{"offset":0.72,"color":"#fff"},{"offset":0.722,"color":"#ee3434"},{"offset":0.724,"color":"#fff"},
{"offset":0.73,"color":"#fff"},{"offset":0.732,"color":"#ee3434"},{"offset":0.734,"color":"#fff"},
{"offset":0.74,"color":"#fff"},{"offset":0.742,"color":"#ee3434"},{"offset":0.744,"color":"#fff"},
{"offset":0.75,"color":"#fff"},{"offset":0.752,"color":"#ee3434"},{"offset":0.754,"color":"#fff"},
{"offset":0.76,"color":"#fff"},{"offset":0.762,"color":"#ee3434"},{"offset":0.764,"color":"#fff"},
{"offset":0.77,"color":"#fff"},{"offset":0.772,"color":"#ee3434"},{"offset":0.774,"color":"#fff"},
{"offset":0.78,"color":"#fff"},{"offset":0.782,"color":"#ee3434"},{"offset":0.784,"color":"#fff"},
{"offset":0.79,"color":"#fff"},{"offset":0.792,"color":"#ee3434"},{"offset":0.794,"color":"#fff"},
{"offset":0.8,"color":"#fff"},{"offset":0.802,"color":"#ee3434"},{"offset":0.804,"color":"#fff"},
{"offset":0.81,"color":"#fff"},{"offset":0.812,"color":"#ee3434"},{"offset":0.814,"color":"#fff"},
{"offset":0.82,"color":"#fff"},{"offset":0.822,"color":"#ee3434"},{"offset":0.824,"color":"#fff"},
{"offset":0.83,"color":"#fff"},{"offset":0.832,"color":"#ee3434"},{"offset":0.834,"color":"#fff"},
{"offset":0.84,"color":"#fff"},{"offset":0.842,"color":"#ee3434"},{"offset":0.844,"color":"#fff"},
{"offset":0.85,"color":"#fff"},{"offset":0.852,"color":"#ee3434"},{"offset":0.854,"color":"#fff"},
{"offset":0.86,"color":"#fff"},{"offset":0.862,"color":"#ee3434"},{"offset":0.864,"color":"#fff"},
{"offset":0.87,"color":"#fff"},{"offset":0.872,"color":"#ee3434"},{"offset":0.874,"color":"#fff"},
{"offset":0.88,"color":"#fff"},{"offset":0.882,"color":"#ee3434"},{"offset":0.884,"color":"#fff"},
{"offset":0.89,"color":"#fff"},{"offset":0.892,"color":"#ee3434"},{"offset":0.894,"color":"#fff"},
{"offset":0.9,"color":"#fff"},{"offset":0.902,"color":"#ee3434"},{"offset":0.904,"color":"#fff"},
{"offset":0.91,"color":"#fff"},{"offset":0.912,"color":"#ee3434"},{"offset":0.914,"color":"#fff"},
{"offset":0.92,"color":"#fff"},{"offset":0.922,"color":"#ee3434"},{"offset":0.924,"color":"#fff"},
{"offset":0.93,"color":"#fff"},{"offset":0.932,"color":"#ee3434"},{"offset":0.934,"color":"#fff"},
{"offset":0.94,"color":"#fff"},{"offset":0.942,"color":"#ee3434"},{"offset":0.944,"color":"#fff"},
{"offset":0.95,"color":"#fff"},{"offset":0.952,"color":"#ee3434"},{"offset":0.954,"color":"#fff"},
{"offset":0.96,"color":"#fff"},{"offset":0.962,"color":"#ee3434"},{"offset":0.964,"color":"#fff"},
{"offset":0.97,"color":"#fff"},{"offset":0.972,"color":"#ee3434"},{"offset":0.974,"color":"#fff"},
{"offset":0.98,"color":"#fff"},{"offset":0.982,"color":"#ee3434"},{"offset":0.984,"color":"#fff"},
{"offset":0.99,"color":"#fff"},{"offset":0.992,"color":"#ee3434"},{"offset":0.994,"color":"#fff"}
]}},
"encoding":{
"y":{"field":"y","type":"quantitative","scale":{"domain":[-0.6,0.6],"nice":false,"zero":false},
"axis":{"orient":"left","values":[-0.6,-0.45,-0.3,-0.15,0,0.15,0.3,0.45,0.6],"labelExpr":"round(datum.value*20)%2==0 ? replace(format(datum.value,'.1f'),'−','-') : ''","tickSize":{"condition":{"test":"round(datum.value*20)%2==0","value":6},"value":3},"title":"x₂/a","titlePadding":14,"labelPadding":6}},
"x":{"field":"xl","type":"quantitative","scale":{"domain":[0.5,2.0],"nice":false,"zero":false},
"axis":{"orient":"bottom","values":[0.5,0.75,1,1.25,1.5,1.75,2],"labelExpr":"round(datum.value*4)%2==0 ? format(datum.value,'.1f') : ''","tickSize":{"condition":{"test":"round(datum.value*4)%2==0","value":6},"value":3},"title":"x₁/a","titlePadding":17,"labelPadding":8,"labelFlush":true,"labelFlushOffset":12}},
"x2":{"field":"xr"}}},
{"data":{"name":"bBlue"},
"mark":{"type":"line","color":"#0000ff","strokeWidth":3.5,"strokeDash":[3.5,8]},
"encoding":{"x":{"field":"x","type":"quantitative","axis":{"orient":"top","values":[0.5,0.75,1,1.25,1.5,1.75,2],"labels":false,"title":null,"tickSize":{"condition":{"test":"round(datum.value*4)%2==0","value":-6},"value":-3}}},
"y":{"field":"y","type":"quantitative","axis":{"orient":"right","values":[-0.6,-0.45,-0.3,-0.15,0,0.15,0.3,0.45,0.6],"labels":false,"title":null,"tickSize":{"condition":{"test":"round(datum.value*20)%2==0","value":-6},"value":-3}}},
"order":{"field":"i","type":"quantitative"}}},
{"data":{"name":"bBlack"},
"mark":{"type":"line","color":"#000000","strokeWidth":2.6,"strokeJoin":"round"},
"encoding":{"x":{"field":"x","type":"quantitative","axis":null},"y":{"field":"y","type":"quantitative","axis":null},"order":{"field":"y","type":"quantitative"}}},
{"data":{"name":"bFill"},
"mark":{"type":"line","color":"#ff0000","strokeWidth":2.8,"strokeJoin":"round"},
"encoding":{"x":{"field":"xl","type":"quantitative","axis":null},"y":{"field":"y","type":"quantitative","axis":null},"order":{"field":"y","type":"quantitative"}}},
{"data":{"name":"bCrack"},
"mark":{"type":"line","color":"#333333","strokeWidth":1},
"encoding":{"x":{"field":"x","type":"quantitative","axis":null},"y":{"field":"y","type":"quantitative","axis":null},"order":{"field":"i","type":"quantitative"}}},
{"data":{"name":"bArrow"},
"mark":{"type":"line","strokeWidth":1},
"encoding":{"x":{"field":"x","type":"quantitative","axis":null},"y":{"field":"y","type":"quantitative","axis":null},"detail":{"field":"id"},"order":{"field":"i","type":"quantitative"},
"color":{"field":"c","type":"nominal","scale":{"domain":["k","b","r"],"range":["#000000","#0000ff","#ff0000"]},"legend":null}}},
{"data":{"name":"bArrow"},"transform":[{"filter":"datum.i==1"}],
"mark":{"type":"point","shape":"M0,0L0.8,2.2L-0.8,2.2Z","filled":true,"size":36,"opacity":1,"strokeWidth":0},
"encoding":{"x":{"field":"x","type":"quantitative","axis":null},"y":{"field":"y","type":"quantitative","axis":null},"angle":{"field":"angle","type":"quantitative","scale":null},
"color":{"field":"c","type":"nominal","scale":{"domain":["k","b","r"],"range":["#000000","#0000ff","#ff0000"]},"legend":null}}},
{"data":{"name":"bText"},
"mark":{"type":"text","font":"Liberation Sans","fontWeight":"bold","fontSize":16.5,"align":"center","baseline":"middle"},
"encoding":{"x":{"field":"x","type":"quantitative","axis":null},"y":{"field":"y","type":"quantitative","axis":null},"text":{"field":"t"},
"color":{"field":"c","type":"nominal","scale":{"domain":["k","b","r"],"range":["#000000","#0000ff","#ff0000"]},"legend":null}}}
]
},
{
"width":511,"height":369,
"title":{"text":"C","anchor":"start","frame":"bounds","fontSize":20,"fontWeight":"normal","font":"Liberation Sans","color":"#000","dx":-14,"offset":4},
"resolve":{"axis":{"x":"independent","y":"independent"}},
"layer":[
{"data":{"name":"cFill"},
"mark":{"type":"area","orient":"horizontal","fill":{"gradient":"linear","x1":0,"y1":0,"x2":1,"y2":1,"stops":[
{"offset":0,"color":"#fff"},{"offset":0.002,"color":"#ee3434"},{"offset":0.004,"color":"#fff"},
{"offset":0.01,"color":"#fff"},{"offset":0.012,"color":"#ee3434"},{"offset":0.014,"color":"#fff"},
{"offset":0.02,"color":"#fff"},{"offset":0.022,"color":"#ee3434"},{"offset":0.024,"color":"#fff"},
{"offset":0.03,"color":"#fff"},{"offset":0.032,"color":"#ee3434"},{"offset":0.034,"color":"#fff"},
{"offset":0.04,"color":"#fff"},{"offset":0.042,"color":"#ee3434"},{"offset":0.044,"color":"#fff"},
{"offset":0.05,"color":"#fff"},{"offset":0.052,"color":"#ee3434"},{"offset":0.054,"color":"#fff"},
{"offset":0.06,"color":"#fff"},{"offset":0.062,"color":"#ee3434"},{"offset":0.064,"color":"#fff"},
{"offset":0.07,"color":"#fff"},{"offset":0.072,"color":"#ee3434"},{"offset":0.074,"color":"#fff"},
{"offset":0.08,"color":"#fff"},{"offset":0.082,"color":"#ee3434"},{"offset":0.084,"color":"#fff"},
{"offset":0.09,"color":"#fff"},{"offset":0.092,"color":"#ee3434"},{"offset":0.094,"color":"#fff"},
{"offset":0.1,"color":"#fff"},{"offset":0.102,"color":"#ee3434"},{"offset":0.104,"color":"#fff"},
{"offset":0.11,"color":"#fff"},{"offset":0.112,"color":"#ee3434"},{"offset":0.114,"color":"#fff"},
{"offset":0.12,"color":"#fff"},{"offset":0.122,"color":"#ee3434"},{"offset":0.124,"color":"#fff"},
{"offset":0.13,"color":"#fff"},{"offset":0.132,"color":"#ee3434"},{"offset":0.134,"color":"#fff"},
{"offset":0.14,"color":"#fff"},{"offset":0.142,"color":"#ee3434"},{"offset":0.144,"color":"#fff"},
{"offset":0.15,"color":"#fff"},{"offset":0.152,"color":"#ee3434"},{"offset":0.154,"color":"#fff"},
{"offset":0.16,"color":"#fff"},{"offset":0.162,"color":"#ee3434"},{"offset":0.164,"color":"#fff"},
{"offset":0.17,"color":"#fff"},{"offset":0.172,"color":"#ee3434"},{"offset":0.174,"color":"#fff"},
{"offset":0.18,"color":"#fff"},{"offset":0.182,"color":"#ee3434"},{"offset":0.184,"color":"#fff"},
{"offset":0.19,"color":"#fff"},{"offset":0.192,"color":"#ee3434"},{"offset":0.194,"color":"#fff"},
{"offset":0.2,"color":"#fff"},{"offset":0.202,"color":"#ee3434"},{"offset":0.204,"color":"#fff"},
{"offset":0.21,"color":"#fff"},{"offset":0.212,"color":"#ee3434"},{"offset":0.214,"color":"#fff"},
{"offset":0.22,"color":"#fff"},{"offset":0.222,"color":"#ee3434"},{"offset":0.224,"color":"#fff"},
{"offset":0.23,"color":"#fff"},{"offset":0.232,"color":"#ee3434"},{"offset":0.234,"color":"#fff"},
{"offset":0.24,"color":"#fff"},{"offset":0.242,"color":"#ee3434"},{"offset":0.244,"color":"#fff"},
{"offset":0.25,"color":"#fff"},{"offset":0.252,"color":"#ee3434"},{"offset":0.254,"color":"#fff"},
{"offset":0.26,"color":"#fff"},{"offset":0.262,"color":"#ee3434"},{"offset":0.264,"color":"#fff"},
{"offset":0.27,"color":"#fff"},{"offset":0.272,"color":"#ee3434"},{"offset":0.274,"color":"#fff"},
{"offset":0.28,"color":"#fff"},{"offset":0.282,"color":"#ee3434"},{"offset":0.284,"color":"#fff"},
{"offset":0.29,"color":"#fff"},{"offset":0.292,"color":"#ee3434"},{"offset":0.294,"color":"#fff"},
{"offset":0.3,"color":"#fff"},{"offset":0.302,"color":"#ee3434"},{"offset":0.304,"color":"#fff"},
{"offset":0.31,"color":"#fff"},{"offset":0.312,"color":"#ee3434"},{"offset":0.314,"color":"#fff"},
{"offset":0.32,"color":"#fff"},{"offset":0.322,"color":"#ee3434"},{"offset":0.324,"color":"#fff"},
{"offset":0.33,"color":"#fff"},{"offset":0.332,"color":"#ee3434"},{"offset":0.334,"color":"#fff"},
{"offset":0.34,"color":"#fff"},{"offset":0.342,"color":"#ee3434"},{"offset":0.344,"color":"#fff"},
{"offset":0.35,"color":"#fff"},{"offset":0.352,"color":"#ee3434"},{"offset":0.354,"color":"#fff"},
{"offset":0.36,"color":"#fff"},{"offset":0.362,"color":"#ee3434"},{"offset":0.364,"color":"#fff"},
{"offset":0.37,"color":"#fff"},{"offset":0.372,"color":"#ee3434"},{"offset":0.374,"color":"#fff"},
{"offset":0.38,"color":"#fff"},{"offset":0.382,"color":"#ee3434"},{"offset":0.384,"color":"#fff"},
{"offset":0.39,"color":"#fff"},{"offset":0.392,"color":"#ee3434"},{"offset":0.394,"color":"#fff"},
{"offset":0.4,"color":"#fff"},{"offset":0.402,"color":"#ee3434"},{"offset":0.404,"color":"#fff"},
{"offset":0.41,"color":"#fff"},{"offset":0.412,"color":"#ee3434"},{"offset":0.414,"color":"#fff"},
{"offset":0.42,"color":"#fff"},{"offset":0.422,"color":"#ee3434"},{"offset":0.424,"color":"#fff"},
{"offset":0.43,"color":"#fff"},{"offset":0.432,"color":"#ee3434"},{"offset":0.434,"color":"#fff"},
{"offset":0.44,"color":"#fff"},{"offset":0.442,"color":"#ee3434"},{"offset":0.444,"color":"#fff"},
{"offset":0.45,"color":"#fff"},{"offset":0.452,"color":"#ee3434"},{"offset":0.454,"color":"#fff"},
{"offset":0.46,"color":"#fff"},{"offset":0.462,"color":"#ee3434"},{"offset":0.464,"color":"#fff"},
{"offset":0.47,"color":"#fff"},{"offset":0.472,"color":"#ee3434"},{"offset":0.474,"color":"#fff"},
{"offset":0.48,"color":"#fff"},{"offset":0.482,"color":"#ee3434"},{"offset":0.484,"color":"#fff"},
{"offset":0.49,"color":"#fff"},{"offset":0.492,"color":"#ee3434"},{"offset":0.494,"color":"#fff"},
{"offset":0.5,"color":"#fff"},{"offset":0.502,"color":"#ee3434"},{"offset":0.504,"color":"#fff"},
{"offset":0.51,"color":"#fff"},{"offset":0.512,"color":"#ee3434"},{"offset":0.514,"color":"#fff"},
{"offset":0.52,"color":"#fff"},{"offset":0.522,"color":"#ee3434"},{"offset":0.524,"color":"#fff"},
{"offset":0.53,"color":"#fff"},{"offset":0.532,"color":"#ee3434"},{"offset":0.534,"color":"#fff"},
{"offset":0.54,"color":"#fff"},{"offset":0.542,"color":"#ee3434"},{"offset":0.544,"color":"#fff"},
{"offset":0.55,"color":"#fff"},{"offset":0.552,"color":"#ee3434"},{"offset":0.554,"color":"#fff"},
{"offset":0.56,"color":"#fff"},{"offset":0.562,"color":"#ee3434"},{"offset":0.564,"color":"#fff"},
{"offset":0.57,"color":"#fff"},{"offset":0.572,"color":"#ee3434"},{"offset":0.574,"color":"#fff"},
{"offset":0.58,"color":"#fff"},{"offset":0.582,"color":"#ee3434"},{"offset":0.584,"color":"#fff"},
{"offset":0.59,"color":"#fff"},{"offset":0.592,"color":"#ee3434"},{"offset":0.594,"color":"#fff"},
{"offset":0.6,"color":"#fff"},{"offset":0.602,"color":"#ee3434"},{"offset":0.604,"color":"#fff"},
{"offset":0.61,"color":"#fff"},{"offset":0.612,"color":"#ee3434"},{"offset":0.614,"color":"#fff"},
{"offset":0.62,"color":"#fff"},{"offset":0.622,"color":"#ee3434"},{"offset":0.624,"color":"#fff"},
{"offset":0.63,"color":"#fff"},{"offset":0.632,"color":"#ee3434"},{"offset":0.634,"color":"#fff"},
{"offset":0.64,"color":"#fff"},{"offset":0.642,"color":"#ee3434"},{"offset":0.644,"color":"#fff"},
{"offset":0.65,"color":"#fff"},{"offset":0.652,"color":"#ee3434"},{"offset":0.654,"color":"#fff"},
{"offset":0.66,"color":"#fff"},{"offset":0.662,"color":"#ee3434"},{"offset":0.664,"color":"#fff"},
{"offset":0.67,"color":"#fff"},{"offset":0.672,"color":"#ee3434"},{"offset":0.674,"color":"#fff"},
{"offset":0.68,"color":"#fff"},{"offset":0.682,"color":"#ee3434"},{"offset":0.684,"color":"#fff"},
{"offset":0.69,"color":"#fff"},{"offset":0.692,"color":"#ee3434"},{"offset":0.694,"color":"#fff"},
{"offset":0.7,"color":"#fff"},{"offset":0.702,"color":"#ee3434"},{"offset":0.704,"color":"#fff"},
{"offset":0.71,"color":"#fff"},{"offset":0.712,"color":"#ee3434"},{"offset":0.714,"color":"#fff"},
{"offset":0.72,"color":"#fff"},{"offset":0.722,"color":"#ee3434"},{"offset":0.724,"color":"#fff"},
{"offset":0.73,"color":"#fff"},{"offset":0.732,"color":"#ee3434"},{"offset":0.734,"color":"#fff"},
{"offset":0.74,"color":"#fff"},{"offset":0.742,"color":"#ee3434"},{"offset":0.744,"color":"#fff"},
{"offset":0.75,"color":"#fff"},{"offset":0.752,"color":"#ee3434"},{"offset":0.754,"color":"#fff"},
{"offset":0.76,"color":"#fff"},{"offset":0.762,"color":"#ee3434"},{"offset":0.764,"color":"#fff"},
{"offset":0.77,"color":"#fff"},{"offset":0.772,"color":"#ee3434"},{"offset":0.774,"color":"#fff"},
{"offset":0.78,"color":"#fff"},{"offset":0.782,"color":"#ee3434"},{"offset":0.784,"color":"#fff"},
{"offset":0.79,"color":"#fff"},{"offset":0.792,"color":"#ee3434"},{"offset":0.794,"color":"#fff"},
{"offset":0.8,"color":"#fff"},{"offset":0.802,"color":"#ee3434"},{"offset":0.804,"color":"#fff"},
{"offset":0.81,"color":"#fff"},{"offset":0.812,"color":"#ee3434"},{"offset":0.814,"color":"#fff"},
{"offset":0.82,"color":"#fff"},{"offset":0.822,"color":"#ee3434"},{"offset":0.824,"color":"#fff"},
{"offset":0.83,"color":"#fff"},{"offset":0.832,"color":"#ee3434"},{"offset":0.834,"color":"#fff"},
{"offset":0.84,"color":"#fff"},{"offset":0.842,"color":"#ee3434"},{"offset":0.844,"color":"#fff"},
{"offset":0.85,"color":"#fff"},{"offset":0.852,"color":"#ee3434"},{"offset":0.854,"color":"#fff"},
{"offset":0.86,"color":"#fff"},{"offset":0.862,"color":"#ee3434"},{"offset":0.864,"color":"#fff"},
{"offset":0.87,"color":"#fff"},{"offset":0.872,"color":"#ee3434"},{"offset":0.874,"color":"#fff"},
{"offset":0.88,"color":"#fff"},{"offset":0.882,"color":"#ee3434"},{"offset":0.884,"color":"#fff"},
{"offset":0.89,"color":"#fff"},{"offset":0.892,"color":"#ee3434"},{"offset":0.894,"color":"#fff"},
{"offset":0.9,"color":"#fff"},{"offset":0.902,"color":"#ee3434"},{"offset":0.904,"color":"#fff"},
{"offset":0.91,"color":"#fff"},{"offset":0.912,"color":"#ee3434"},{"offset":0.914,"color":"#fff"},
{"offset":0.92,"color":"#fff"},{"offset":0.922,"color":"#ee3434"},{"offset":0.924,"color":"#fff"},
{"offset":0.93,"color":"#fff"},{"offset":0.932,"color":"#ee3434"},{"offset":0.934,"color":"#fff"},
{"offset":0.94,"color":"#fff"},{"offset":0.942,"color":"#ee3434"},{"offset":0.944,"color":"#fff"},
{"offset":0.95,"color":"#fff"},{"offset":0.952,"color":"#ee3434"},{"offset":0.954,"color":"#fff"},
{"offset":0.96,"color":"#fff"},{"offset":0.962,"color":"#ee3434"},{"offset":0.964,"color":"#fff"},
{"offset":0.97,"color":"#fff"},{"offset":0.972,"color":"#ee3434"},{"offset":0.974,"color":"#fff"},
{"offset":0.98,"color":"#fff"},{"offset":0.982,"color":"#ee3434"},{"offset":0.984,"color":"#fff"},
{"offset":0.99,"color":"#fff"},{"offset":0.992,"color":"#ee3434"},{"offset":0.994,"color":"#fff"}
]}},
"encoding":{
"y":{"field":"y","type":"quantitative","scale":{"domain":[-0.8,0.8],"nice":false,"zero":false},
"axis":{"orient":"left","values":[-0.8,-0.6,-0.4,-0.2,0,0.2,0.4,0.6,0.8],"labelExpr":"round(datum.value*5)%2==0 ? replace(format(datum.value,'.1f'),'−','-') : ''","tickSize":{"condition":{"test":"round(datum.value*5)%2==0","value":6},"value":3},"title":"x₂/a","titlePadding":14,"labelPadding":6}},
"x":{"field":"xl","type":"quantitative","scale":{"domain":[0.3,2.1],"nice":false,"zero":false},
"axis":{"orient":"bottom","values":[0.3,0.45,0.6,0.75,0.9,1.05,1.2,1.35,1.5,1.65,1.8,1.95,2.1],"labelExpr":"round(datum.value/0.15)%2==0 ? format(datum.value,'.1f') : ''","tickSize":{"condition":{"test":"round(datum.value/0.15)%2==0","value":6},"value":3},"title":"x₁/a","titlePadding":17,"labelPadding":8}},
"x2":{"field":"xr"}}},
{"data":{"name":"cBlue"},
"mark":{"type":"line","color":"#0000ff","strokeWidth":3.5,"strokeDash":[3.5,8]},
"encoding":{"x":{"field":"x","type":"quantitative","axis":{"orient":"top","values":[0.3,0.45,0.6,0.75,0.9,1.05,1.2,1.35,1.5,1.65,1.8,1.95,2.1],"labels":false,"title":null,"tickSize":{"condition":{"test":"round(datum.value/0.15)%2==0","value":-6},"value":-3}}},
"y":{"field":"y","type":"quantitative","axis":{"orient":"right","values":[-0.8,-0.6,-0.4,-0.2,0,0.2,0.4,0.6,0.8],"labels":false,"title":null,"tickSize":{"condition":{"test":"round(datum.value*5)%2==0","value":-6},"value":-3}}},
"order":{"field":"i","type":"quantitative"}}},
{"data":{"name":"cBlack"},
"mark":{"type":"line","color":"#000000","strokeWidth":2.6,"strokeJoin":"round"},
"encoding":{"x":{"field":"x","type":"quantitative","axis":null},"y":{"field":"y","type":"quantitative","axis":null},"order":{"field":"y","type":"quantitative"}}},
{"data":{"name":"cFill"},
"mark":{"type":"line","color":"#ff0000","strokeWidth":2.8,"strokeJoin":"round"},
"encoding":{"x":{"field":"xl","type":"quantitative","axis":null},"y":{"field":"y","type":"quantitative","axis":null},"order":{"field":"y","type":"quantitative"}}},
{"data":{"name":"cCrack"},
"mark":{"type":"line","color":"#333333","strokeWidth":1},
"encoding":{"x":{"field":"x","type":"quantitative","axis":null},"y":{"field":"y","type":"quantitative","axis":null},"order":{"field":"i","type":"quantitative"}}},
{"data":{"name":"cArrow"},
"mark":{"type":"line","strokeWidth":1},
"encoding":{"x":{"field":"x","type":"quantitative","axis":null},"y":{"field":"y","type":"quantitative","axis":null},"detail":{"field":"id"},"order":{"field":"i","type":"quantitative"},
"color":{"field":"c","type":"nominal","scale":{"domain":["k","b","r"],"range":["#000000","#0000ff","#ff0000"]},"legend":null}}},
{"data":{"name":"cArrow"},"transform":[{"filter":"datum.i==1"}],
"mark":{"type":"point","shape":"M0,0L0.8,2.2L-0.8,2.2Z","filled":true,"size":36,"opacity":1,"strokeWidth":0},
"encoding":{"x":{"field":"x","type":"quantitative","axis":null},"y":{"field":"y","type":"quantitative","axis":null},"angle":{"field":"angle","type":"quantitative","scale":null},
"color":{"field":"c","type":"nominal","scale":{"domain":["k","b","r"],"range":["#000000","#0000ff","#ff0000"]},"legend":null}}},
{"data":{"name":"cText"},
"mark":{"type":"text","font":"Liberation Sans","fontWeight":"bold","fontSize":16,"align":"center","baseline":"middle"},
"encoding":{"x":{"field":"x","type":"quantitative","axis":null},"y":{"field":"y","type":"quantitative","axis":null},"text":{"field":"t"},
"color":{"field":"c","type":"nominal","scale":{"domain":["k","b","r"],"range":["#000000","#0000ff","#ff0000"]},"legend":null}}}
]
}
],
"config":{
"view":{"stroke":null},
"axis":{"grid":false,"domainColor":"#000","domainWidth":1.5,"tickColor":"#000","tickWidth":1.5,"labelFont":"Liberation Sans","labelFontSize":20,"labelFontWeight":"bold","labelColor":"#000","labelFlush":false,"labelOverlap":false,"titleFont":"Liberation Sans","titleFontSize":27,"titleFontWeight":"bold","titleColor":"#000"}
}
}
